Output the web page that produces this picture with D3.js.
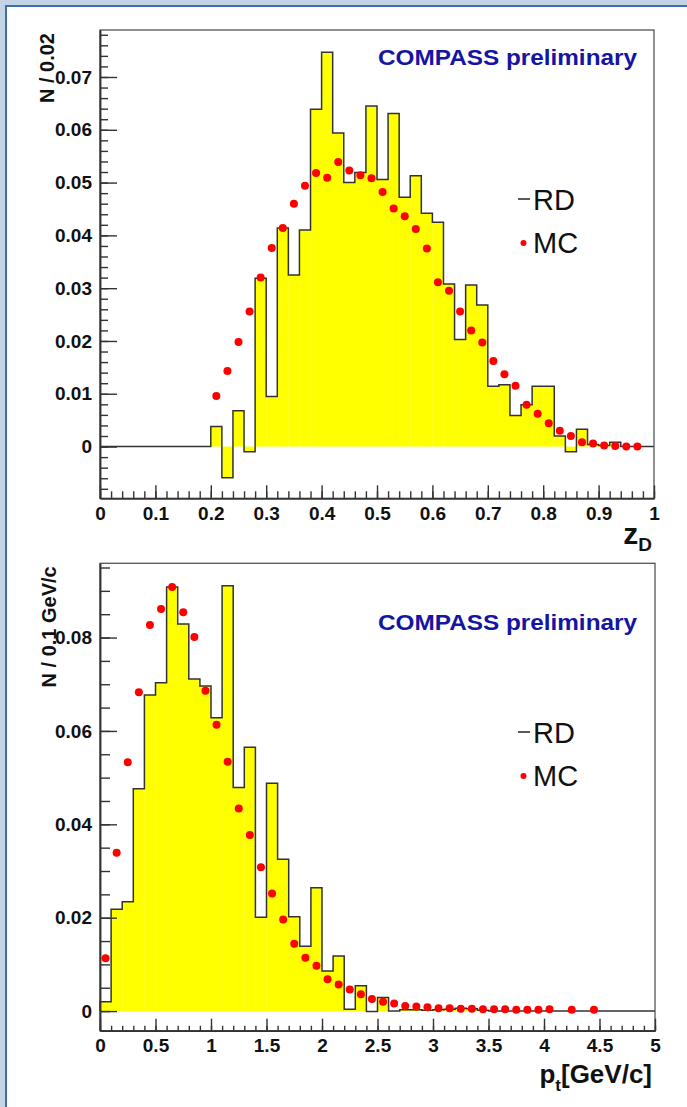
<!DOCTYPE html>
<html><head><meta charset="utf-8">
<script src="https://cdn.jsdelivr.net/npm/d3@7/dist/d3.min.js"></script>
<style>body{margin:0;background:#fff}svg{display:block}</style>
</head><body>
<svg id="c" width="687" height="1107"></svg>
<script>
// ---------- Top panel: z_D ----------
const zBinWidth = 0.02;
// RD content per bin, bins start at 0.00 and go to 1.00 (50 bins)
const zRD = [
  0,0,0,0,0,0,0,0,0,0,
  0.0038,-0.0059,0.0068,-0.0010,0.0319,0.0095,0.0414,0.0325,0.0410,0.0639,
  0.0747,0.0594,0.0500,0.0519,0.0645,0.0506,0.0631,0.0472,0.0513,0.0442,
  0.0425,0.0308,0.0203,0.0306,0.0268,0.0114,0.0117,0.0059,0.0079,0.0114,
  0.0114,0.0020,-0.0010,0.0033,0.0004,0.0002,0.0008,0,0,0
];
// MC value per bin (null = no marker)
const zMC = [
  null,null,null,null,null,null,null,null,null,null,
  0.0096,0.0143,0.0198,0.0256,0.0320,0.0376,0.0414,0.0460,0.0494,0.0518,
  0.0509,0.0539,0.0523,0.0514,0.0508,0.0482,0.0451,0.0436,0.0412,0.0375,
  0.0311,0.0295,0.0256,0.0220,0.0197,0.0162,0.0137,0.0115,0.0079,0.0062,
  0.0044,0.0030,0.0020,0.0008,0.0006,0.0002,0.0001,0.0000,0.0000,null
];
const zXTicks = [0,0.1,0.2,0.3,0.4,0.5,0.6,0.7,0.8,0.9,1];
const zYTicks = [0,0.01,0.02,0.03,0.04,0.05,0.06,0.07];

// ---------- Bottom panel: p_t ----------
const ptBinWidth = 0.1;
const ptRD = [
  0.0020,0.0218,0.0234,0.0476,0.0677,0.0703,0.0908,0.0829,0.0711,0.0696,
  0.0628,0.0911,0.0479,0.0565,0.0201,0.0488,0.0325,0.0202,0.0139,0.0264,
  0.0086,0.0118,0.0004,0.0054,-0.0001,0.0029,0.0000,0.0003,0.0003,0.0002,
  0.0003,0.0004,0.0006,0.0005,0.0002,0,0,0,0,0,
  0,0,0,0,0,0,0,0,0,0
];
const ptMC = [
  0.0113,0.0339,0.0533,0.0683,0.0827,0.0861,0.0908,0.0854,0.0801,0.0686,
  0.0613,0.0534,0.0434,0.0377,0.0308,0.0252,0.0196,0.0144,0.0114,0.0097,
  0.0068,0.0057,0.0046,0.0036,0.0026,0.0020,0.0016,0.0011,0.0010,0.0008,
  0.0006,0.0006,0.0005,0.0005,0.0004,0.0004,0.0004,0.0003,0.0003,0.0003,
  0.0004,null,0.0003,null,0.0003,null,null,null,null,null
];
const ptXTicks = [0,0.5,1,1.5,2,2.5,3,3.5,4,4.5,5];
const ptYTicks = [0,0.02,0.04,0.06,0.08];

const svg = d3.select("#c");
const FONT = "'Liberation Sans', Arial, Helvetica, sans-serif";

// outer slide border
svg.append("rect").attr("x",0).attr("y",0).attr("width",687).attr("height",6).attr("fill","#c3d4e7");
svg.append("rect").attr("x",0).attr("y",0).attr("width",6).attr("height",1107).attr("fill","#c3d4e7");
svg.append("line").attr("x1",5).attr("x2",687).attr("y1",6).attr("y2",6).attr("stroke","#3e6da7").attr("stroke-width",2);
svg.append("line").attr("x1",6).attr("x2",6).attr("y1",5).attr("y2",1107).attr("stroke","#3e6da7").attr("stroke-width",2);

const fmt = d => d === 0 ? "0" : String(+d.toFixed(4));

function panel(cfg){
  const g = svg.append("g");
  const x = d3.scaleLinear().domain(cfg.xDomain).range([cfg.x0, cfg.x1]);
  const y = d3.scaleLinear().domain(cfg.yDomain).range([cfg.y1, cfg.y0]);
  const bw = cfg.binWidth;
  const x0v = cfg.xDomain[0];

  // fill
  g.selectAll("rect.fill").data(cfg.rd).enter().append("rect")
    .attr("class","fill")
    .attr("x",(d,i)=>x(x0v+i*bw))
    .attr("width",(d,i)=>x(x0v+(i+1)*bw)-x(x0v+i*bw)+0.3)
    .attr("y",d=>Math.min(y(d),y(0)))
    .attr("height",d=>Math.abs(y(d)-y(0)))
    .attr("fill","#ffff00");

  // outline step
  let p = d3.path();
  p.moveTo(x(x0v), y(0));
  cfg.rd.forEach((d,i)=>{
    p.lineTo(x(x0v+i*bw), y(d));
    p.lineTo(x(x0v+(i+1)*bw), y(d));
  });
  p.lineTo(x(x0v+cfg.rd.length*bw), y(0));
  g.append("path").attr("d",p.toString()).attr("fill","none")
    .attr("stroke","#333").attr("stroke-width",1.5);

  // MC markers
  g.selectAll("circle.mc").data(cfg.mc.map((v,i)=>({v,i})).filter(d=>d.v!==null))
    .enter().append("circle")
    .attr("cx",d=>x(x0v+(d.i+0.5)*bw))
    .attr("cy",d=>y(d.v))
    .attr("r",4).attr("fill","#ff0000");

  // frame
  g.append("rect").attr("x",cfg.x0).attr("y",cfg.y0)
    .attr("width",cfg.x1-cfg.x0).attr("height",cfg.y1-cfg.y0)
    .attr("fill","none").attr("stroke","#555").attr("stroke-width",1.3);

  // axes
  const xMinor = d3.range(cfg.xDomain[0], cfg.xDomain[1]+1e-9, cfg.xMinorStep);
  const yMinor = d3.range(Math.ceil(cfg.yDomain[0]/cfg.yMinorStep-1e-9)*cfg.yMinorStep, cfg.yDomain[1], cfg.yMinorStep);

  const gx = g.append("g").attr("transform",`translate(0,${cfg.y1})`);
  gx.append("g").call(d3.axisBottom(x).tickValues(xMinor).tickSize(-cfg.xMinorLen).tickSizeOuter(0).tickFormat(""));
  gx.append("g").attr("class","maj").call(d3.axisBottom(x).tickValues(cfg.xTicks).tickSize(-cfg.xMajorLen).tickSizeOuter(0).tickPadding(cfg.xPad).tickFormat(fmt));

  const gy = g.append("g").attr("transform",`translate(${cfg.x0},0)`);
  gy.append("g").call(d3.axisLeft(y).tickValues(yMinor).tickSize(-cfg.yMinorLen).tickSizeOuter(0).tickFormat(""));
  gy.append("g").attr("class","maj").call(d3.axisLeft(y).tickValues(cfg.yTicks).tickSize(-cfg.yMajorLen).tickSizeOuter(0).tickPadding(8).tickFormat(fmt));

  g.selectAll(".domain").attr("stroke","#333").attr("stroke-width",1.5);
  g.selectAll(".tick line").attr("stroke","#333").attr("stroke-width",1.4);
  g.selectAll(".tick text").attr("fill","#111").attr("font-family",FONT)
    .attr("font-weight","bold").attr("font-size",19);

  // y title
  g.append("text").attr("transform",`translate(${cfg.yTitleX},${cfg.y0+3}) rotate(-90)`)
    .attr("text-anchor","end").attr("font-family",FONT).attr("font-weight","bold")
    .attr("font-size",20).attr("fill","#111").text(cfg.yTitle);

  // COMPASS preliminary
  g.append("text").attr("x",378).attr("y",cfg.prelimY)
    .attr("textLength",259).attr("lengthAdjust","spacingAndGlyphs")
    .attr("font-family",FONT).attr("font-weight","bold").attr("font-size",22)
    .attr("fill","#1515a3").text("COMPASS preliminary");

  // legend
  g.append("line").attr("x1",518).attr("x2",530).attr("y1",cfg.legY-11).attr("y2",cfg.legY-11)
    .attr("stroke","#222").attr("stroke-width",1.5);
  g.append("text").attr("x",533).attr("y",cfg.legY).attr("font-family",FONT)
    .attr("font-size",29).attr("fill","#111").text("RD");
  g.append("circle").attr("cx",523.5).attr("cy",cfg.legY+33).attr("r",3).attr("fill","#ff0000");
  g.append("text").attr("x",533).attr("y",cfg.legY+43).attr("font-family",FONT)
    .attr("font-size",29).attr("fill","#111").text("MC");
  return g;
}

const topPanel = panel({
  xDomain:[0,1], yDomain:[-0.0098,0.0789],
  x0:100, x1:654, y0:30, y1:498.3,
  binWidth:zBinWidth, rd:zRD, mc:zMC,
  xTicks:zXTicks, yTicks:zYTicks, xMinorStep:0.02, yMinorStep:0.002,
  xMajorLen:13, xMinorLen:7, yMajorLen:17, yMinorLen:8, xPad:8,
  yTitle:"N / 0.02", yTitleX:54, prelimY:65, legY:210
});
// x title z_D
topPanel.append("text").attr("x",652).attr("y",544).attr("text-anchor","end")
  .attr("font-family",FONT).attr("font-weight","bold").attr("fill","#111")
  .call(t=>{
    t.append("tspan").attr("font-size",30).text("z");
    t.append("tspan").attr("font-size",19).attr("dy",7).text("D");
  });

const botPanel = panel({
  xDomain:[0,5], yDomain:[-0.0042,0.0959],
  x0:100, x1:655, y0:563.3, y1:1030.7,
  binWidth:ptBinWidth, rd:ptRD, mc:ptMC,
  xTicks:ptXTicks, yTicks:ptYTicks, xMinorStep:0.1, yMinorStep:0.005,
  xMajorLen:12, xMinorLen:5, yMajorLen:17, yMinorLen:10, xPad:8,
  yTitle:"N / 0.1 GeV/c", yTitleX:56, prelimY:630, legY:743
});
botPanel.append("text").attr("x",652).attr("y",1083).attr("text-anchor","end")
  .attr("font-family",FONT).attr("font-weight","bold").attr("fill","#111")
  .call(t=>{
    t.append("tspan").attr("font-size",26).text("p");
    t.append("tspan").attr("font-size",17).attr("dy",8).text("t");
    t.append("tspan").attr("font-size",26).attr("dy",-8).text("[GeV/c]");
  });
</script>
</body></html>
